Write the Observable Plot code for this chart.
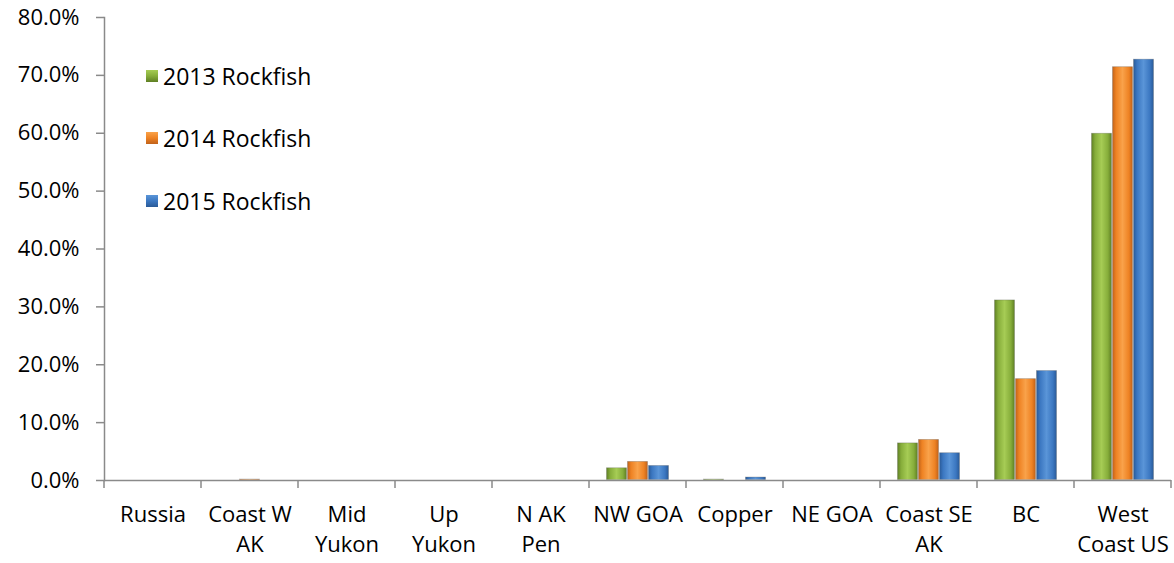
<!DOCTYPE html>
<html><head><meta charset="utf-8">
<script src="https://cdn.jsdelivr.net/npm/d3@7"></script>
<script src="https://cdn.jsdelivr.net/npm/@observablehq/plot@0.6"></script>
<style>
body{margin:0;background:#fff;}
#wrap{position:relative;width:1174px;height:563px;}
#legend{position:absolute;left:146px;top:0;font-family:"Open Sans";font-size:23px;color:#000;}
.item{position:absolute;left:0;white-space:nowrap;display:flex;align-items:center;height:30px;}
.sw{width:12px;height:12px;margin-right:5px;}
</style></head><body><div id="wrap"><div id="chart"></div><div id="legend"></div></div>
<script>
const categories = ["Russia","Coast W AK","Mid Yukon","Up Yukon","N AK Pen","NW GOA","Copper","NE GOA","Coast SE AK","BC","West Coast US"];
const tickLabels = ["Russia","Coast W\nAK","Mid\nYukon","Up\nYukon","N AK\nPen","NW GOA","Copper","NE GOA","Coast SE\nAK","BC","West\nCoast US"];
const series = ["2013 Rockfish","2014 Rockfish","2015 Rockfish"];
const v2013 = [0, 0, 0, 0, 0, 2.2, 0.25, 0, 6.5, 31.2, 60.0];
const v2014 = [0.05, 0.25, 0, 0, 0, 3.3, 0.05, 0.05, 7.1, 17.6, 71.5];
const v2015 = [0, 0, 0, 0, 0, 2.6, 0.6, 0, 4.8, 19.0, 72.8];
const yTicks = [0, 10, 20, 30, 40, 50, 60, 70, 80];
const seriesColors = [
  {dark:"#5f7f24", mid:"#86ad3a", light:"#a6cc55"},
  {dark:"#c0621a", mid:"#ee8223", light:"#f9a24a"},
  {dark:"#2a5a97", mid:"#3b77c1", light:"#5a95d8"}
];

const values = [v2013, v2014, v2015];
const rows = categories.flatMap((c, i) => series.map((s, j) => ({category: c, series: s, value: values[j][i]})));
const labelMap = new Map(categories.map((c, i) => [c, tickLabels[i]]));
const axisColor = "#8a8a8a";

const plot = Plot.plot({
  width: 1174, height: 563,
  marginLeft: 101, marginRight: 0, marginTop: 17, marginBottom: 83,
  style: {fontFamily: "Open Sans", fontSize: "22px", color: "#000", background: "#fff", overflow: "visible"},
  fx: {domain: categories, padding: 0, label: null},
  x: {domain: series, paddingInner: 0, paddingOuter: 0.785, axis: null},
  y: {domain: [0, 80], label: null},
  marks: [
    Plot.ruleY([0], {stroke: axisColor, strokeWidth: 1.5}),
    ...series.map((s, j) => Plot.barY(rows.filter(r => r.series === s), {
      fx: "category", x: "series", y: "value",
      fill: `url(#grad${j})`, stroke: "#555", strokeOpacity: 0.35, strokeWidth: 0.8, inset: 0.5
    })),
    Plot.frame({anchor: "left", facetAnchor: "left", stroke: axisColor, strokeWidth: 1.5}),
    Plot.axisY({ticks: yTicks, tickFormat: d => d.toFixed(1) + "%", tickSize: 8, tickPadding: 17,
      stroke: axisColor, strokeWidth: 1.5, fill: "#000", fontSize: 22, label: null}),
    Plot.axisFx({anchor: "bottom", tickSize: 0, tickPadding: 20, lineHeight: 1.36,
      tickFormat: d => labelMap.get(d), fill: "#000", fontSize: 22, label: null})
  ]
});

document.getElementById("chart").appendChild(plot);

// gradients
const svg = d3.select(plot);
const defs = svg.insert("defs", ":first-child");
seriesColors.forEach((c, j) => {
  const g = defs.append("linearGradient").attr("id", `grad${j}`).attr("x1", "0").attr("x2", "1").attr("y1", "0").attr("y2", "0");
  [[0, c.dark], [0.18, c.mid], [0.5, c.light], [0.82, c.mid], [1, c.dark]].forEach(([o, col]) =>
    g.append("stop").attr("offset", o).attr("stop-color", col));
});

// category separator ticks at band edges
const fx = plot.scale("fx");
const y = plot.scale("y");
const edges = categories.map(c => fx.apply(c)).concat([fx.apply(categories[categories.length - 1]) + fx.bandwidth]);
svg.append("g").attr("stroke", axisColor).attr("stroke-width", 1.5)
  .selectAll("line").data(edges).join("line")
  .attr("x1", d => Math.min(d, 1173)).attr("x2", d => Math.min(d, 1173))
  .attr("y1", y.apply(0)).attr("y2", y.apply(0) + 8);

// legend (inside plot area)
const legend = d3.select("#legend");
const rowCenters = [76, 138, 201];
series.forEach((s, j) => {
  const it = legend.append("div").attr("class", "item").style("top", (rowCenters[j] - 15) + "px");
  it.append("div").attr("class", "sw")
    .style("background", `linear-gradient(to bottom, ${seriesColors[j].light}, ${seriesColors[j].mid} 50%, ${seriesColors[j].dark})`);
  it.append("span").text(s);
});
</script>
</body></html>
